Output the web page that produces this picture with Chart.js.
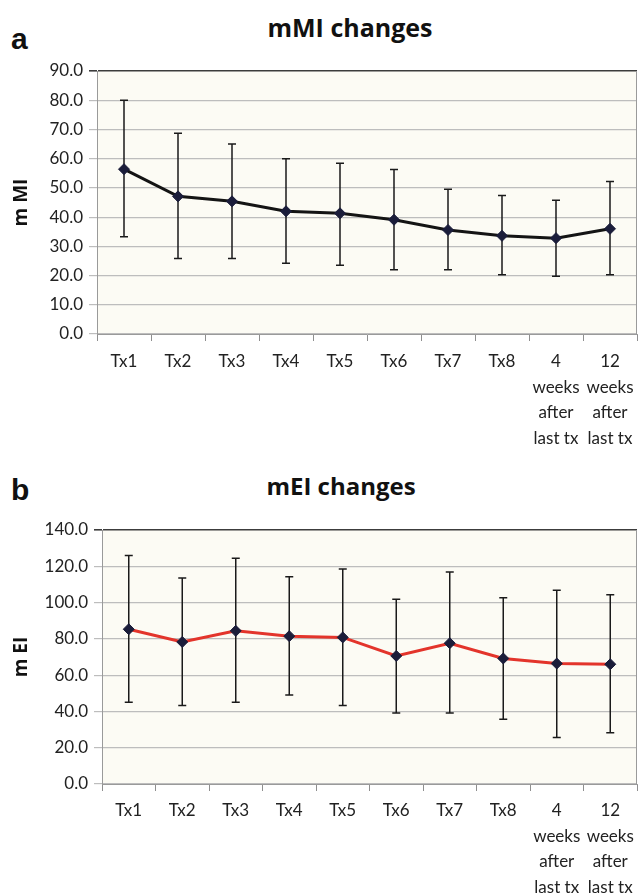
<!DOCTYPE html>
<html>
<head>
<meta charset="utf-8">
<script src="https://cdn.jsdelivr.net/npm/chart.js@4.4.1/dist/chart.umd.min.js"></script>
<style>
  body { margin: 0; background: #fff; width: 639px; height: 893px; position: relative; overflow: hidden; }
  .box { position: absolute; left: 0; width: 639px; }
  .panel { position: absolute; font-family: "Liberation Sans", Arial, sans-serif; font-weight: bold; color: #111; }
  .title { position: absolute; font-family: "Open Sans", sans-serif; font-weight: bold; color: #111; white-space: nowrap; transform: translateX(-50%); }
</style>
</head>
<body>
<div class="panel" style="left:11px; top:22px; font-size:30px;">a</div>
<div class="title" style="left:350px; top:10px; font-size:25px;">mMI changes</div>
<div class="box" style="top:0; height:450px;"><canvas id="mmiChart"></canvas></div>

<div class="panel" style="left:11px; top:473px; font-size:30px;">b</div>
<div class="title" style="left:341px; top:469px; font-size:24px;">mEI changes</div>
<div class="box" style="top:450px; height:443px;"><canvas id="meiChart"></canvas></div>

<script>
// kategori sumbu x
const categories = ['Tx1', 'Tx2', 'Tx3', 'Tx4', 'Tx5', 'Tx6', 'Tx7', 'Tx8',
  ['4', 'weeks', 'after', 'last tx'], ['12', 'weeks', 'after', 'last tx']];

// mMI: rata-rata dan batas error bar
const mmiMean = [56.4, 47.1, 45.4, 42.0, 41.3, 39.1, 35.6, 33.6, 32.8, 36.0];
const mmiHigh = [80.0, 68.7, 65.0, 60.0, 58.4, 56.3, 49.5, 47.4, 45.8, 52.2];
const mmiLow  = [33.3, 25.8, 25.8, 24.2, 23.5, 22.0, 22.0, 20.3, 19.8, 20.3];
const mmiTicks = [0, 90, 10];

// mEI: rata-rata dan batas error bar
const meiMean = [85.3, 78.3, 84.4, 81.5, 80.8, 70.6, 77.6, 69.2, 66.4, 66.0];
const meiHigh = [125.9, 113.5, 124.4, 114.3, 118.5, 101.8, 116.8, 102.6, 106.8, 104.3];
const meiLow  = [45.0, 43.3, 45.0, 49.0, 43.3, 39.1, 39.1, 35.7, 25.6, 28.2];
const meiTicks = [0, 140, 20];

const tickFont = { family: 'Lato', size: 17, lineHeight: 1.5 };

// latar area plot + garis tepi kanan
const plotBg = {
  id: 'plotBg',
  beforeDraw(chart) {
    const { ctx, chartArea: a } = chart;
    ctx.save();
    ctx.fillStyle = '#fcfbf4';
    ctx.fillRect(a.left, a.top, a.right - a.left, a.bottom - a.top);
    ctx.restore();
  },
  afterDraw(chart) {
    const { ctx, chartArea: a } = chart;
    ctx.save();
    ctx.strokeStyle = '#9a9a9a';
    ctx.lineWidth = 1;
    ctx.beginPath();
    ctx.moveTo(a.right - 0.5, a.top);
    ctx.lineTo(a.right - 0.5, a.bottom);
    ctx.stroke();
    ctx.restore();
  }
};

// error bar digambar dari skala chart
const errorBars = {
  id: 'errorBars',
  beforeDatasetsDraw(chart, args, opts) {
    const { ctx, scales: { x, y } } = chart;
    ctx.save();
    ctx.strokeStyle = '#1a1a1a';
    ctx.lineWidth = 1.5;
    opts.high.forEach((hi, i) => {
      const px = x.getPixelForValue(i);
      const yHi = y.getPixelForValue(hi);
      const yLo = y.getPixelForValue(opts.low[i]);
      ctx.beginPath();
      ctx.moveTo(px, yHi); ctx.lineTo(px, yLo);
      ctx.moveTo(px - 4, yHi); ctx.lineTo(px + 4, yHi);
      ctx.moveTo(px - 4, yLo); ctx.lineTo(px + 4, yLo);
      ctx.stroke();
    });
    ctx.restore();
  }
};

function makeChart(id, mean, high, low, ticks, yTitle, lineColor, leftW, topPad, xH, xPad) {
  const [yMin, yMax, step] = ticks;
  return new Chart(document.getElementById(id), {
    type: 'line',
    data: {
      labels: categories,
      datasets: [{
        data: mean,
        borderColor: lineColor,
        borderWidth: 3,
        tension: 0,
        pointStyle: 'rectRot',
        pointRadius: 5.5,
        pointBackgroundColor: '#1b1d3a',
        pointBorderColor: '#1b1d3a',
        pointBorderWidth: 1
      }]
    },
    options: {
      responsive: true,
      maintainAspectRatio: false,
      animation: false,
      layout: { autoPadding: false, padding: { top: topPad, right: 2, left: 0, bottom: 0 } },
      plugins: {
        legend: { display: false },
        tooltip: { enabled: false },
        errorBars: { high: high, low: low }
      },
      scales: {
        x: {
          offset: true,
          grid: { offset: true, drawOnChartArea: false, tickLength: 7, color: '#8f8f8f' },
          border: { color: '#9a9a9a' },
          ticks: { font: tickFont, color: '#222', padding: xPad, maxRotation: 0, autoSkip: false },
          afterFit(s) { s.height = xH; s.paddingLeft = 0; s.paddingRight = 0; }
        },
        y: {
          min: yMin, max: yMax,
          ticks: { stepSize: step, font: { family: 'Lato', size: 17 }, color: '#222', padding: 6,
                   callback: v => v.toFixed(1) },
          grid: {
            tickLength: 8,
            color: c => (c.tick && c.tick.value === yMax) ? '#3c3c3c' : '#bdbdbd',
            lineWidth: c => (c.tick && c.tick.value === yMax) ? 1.6 : 1.2
          },
          border: { color: '#9a9a9a' },
          title: { display: true, text: yTitle, font: { family: 'Open Sans', size: 19, weight: 'bold' },
                   color: '#111', padding: { top: 10, bottom: 0 } },
          afterFit(s) { s.width = leftW; }
        }
      }
    },
    plugins: [plotBg, errorBars]
  });
}

makeChart('mmiChart', mmiMean, mmiHigh, mmiLow, mmiTicks, 'm MI', '#141414', 97, 71, 116, 8);
makeChart('meiChart', meiMean, meiHigh, meiLow, meiTicks, 'm EI', '#e3342b', 102, 80, 109, 7);
</script>
</body>
</html>
